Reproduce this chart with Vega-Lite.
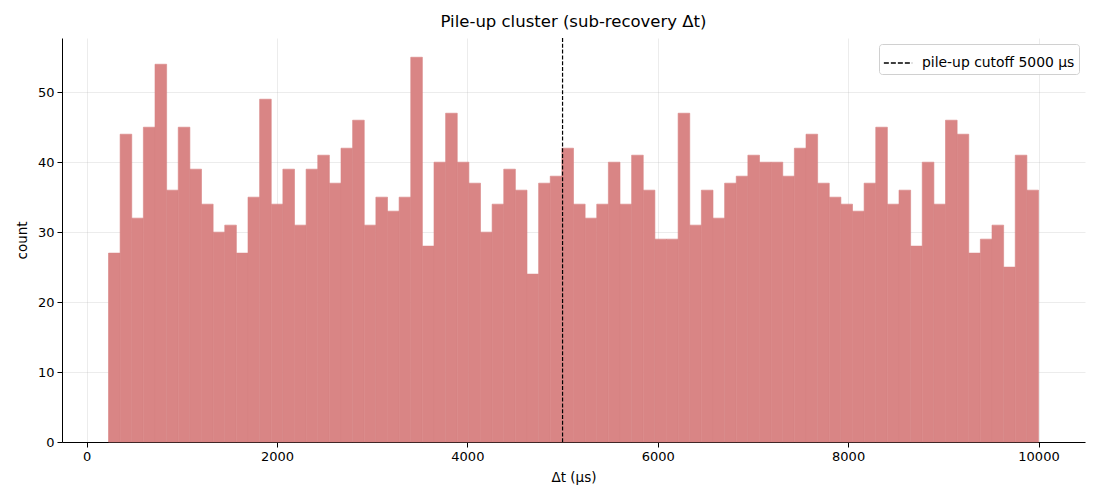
{
  "$schema": "https://vega.github.io/schema/vega-lite/v6.json",
  "width": 1023,
  "height": 404,
  "autosize": {"type": "none"},
  "padding": {"left": 62, "top": 38, "right": 15, "bottom": 58},
  "background": "white",
  "title": {"text": "Pile-up cluster (sub-recovery Δt)", "fontSize": 16.5, "fontWeight": "normal", "font": "DejaVu Sans", "offset": 7, "color": "black"},
  "datasets": {
    "bins": [
      {"bin_start": 230, "bin_end": 352.125, "count": 27},
      {"bin_start": 352.125, "bin_end": 474.25, "count": 44},
      {"bin_start": 474.25, "bin_end": 596.375, "count": 32},
      {"bin_start": 596.375, "bin_end": 718.5, "count": 45},
      {"bin_start": 718.5, "bin_end": 840.625, "count": 54},
      {"bin_start": 840.625, "bin_end": 962.75, "count": 36},
      {"bin_start": 962.75, "bin_end": 1084.875, "count": 45},
      {"bin_start": 1084.875, "bin_end": 1207, "count": 39},
      {"bin_start": 1207, "bin_end": 1329.125, "count": 34},
      {"bin_start": 1329.125, "bin_end": 1451.25, "count": 30},
      {"bin_start": 1451.25, "bin_end": 1573.375, "count": 31},
      {"bin_start": 1573.375, "bin_end": 1695.5, "count": 27},
      {"bin_start": 1695.5, "bin_end": 1817.625, "count": 35},
      {"bin_start": 1817.625, "bin_end": 1939.75, "count": 49},
      {"bin_start": 1939.75, "bin_end": 2061.875, "count": 34},
      {"bin_start": 2061.875, "bin_end": 2184, "count": 39},
      {"bin_start": 2184, "bin_end": 2306.125, "count": 31},
      {"bin_start": 2306.125, "bin_end": 2428.25, "count": 39},
      {"bin_start": 2428.25, "bin_end": 2550.375, "count": 41},
      {"bin_start": 2550.375, "bin_end": 2672.5, "count": 37},
      {"bin_start": 2672.5, "bin_end": 2794.625, "count": 42},
      {"bin_start": 2794.625, "bin_end": 2916.75, "count": 46},
      {"bin_start": 2916.75, "bin_end": 3038.875, "count": 31},
      {"bin_start": 3038.875, "bin_end": 3161, "count": 35},
      {"bin_start": 3161, "bin_end": 3283.125, "count": 33},
      {"bin_start": 3283.125, "bin_end": 3405.25, "count": 35},
      {"bin_start": 3405.25, "bin_end": 3527.375, "count": 55},
      {"bin_start": 3527.375, "bin_end": 3649.5, "count": 28},
      {"bin_start": 3649.5, "bin_end": 3771.625, "count": 40},
      {"bin_start": 3771.625, "bin_end": 3893.75, "count": 47},
      {"bin_start": 3893.75, "bin_end": 4015.875, "count": 40},
      {"bin_start": 4015.875, "bin_end": 4138, "count": 37},
      {"bin_start": 4138, "bin_end": 4260.125, "count": 30},
      {"bin_start": 4260.125, "bin_end": 4382.25, "count": 34},
      {"bin_start": 4382.25, "bin_end": 4504.375, "count": 39},
      {"bin_start": 4504.375, "bin_end": 4626.5, "count": 36},
      {"bin_start": 4626.5, "bin_end": 4748.625, "count": 24},
      {"bin_start": 4748.625, "bin_end": 4870.75, "count": 37},
      {"bin_start": 4870.75, "bin_end": 4992.875, "count": 38},
      {"bin_start": 4992.875, "bin_end": 5115, "count": 42},
      {"bin_start": 5115, "bin_end": 5237.125, "count": 34},
      {"bin_start": 5237.125, "bin_end": 5359.25, "count": 32},
      {"bin_start": 5359.25, "bin_end": 5481.375, "count": 34},
      {"bin_start": 5481.375, "bin_end": 5603.5, "count": 40},
      {"bin_start": 5603.5, "bin_end": 5725.625, "count": 34},
      {"bin_start": 5725.625, "bin_end": 5847.75, "count": 41},
      {"bin_start": 5847.75, "bin_end": 5969.875, "count": 36},
      {"bin_start": 5969.875, "bin_end": 6092, "count": 29},
      {"bin_start": 6092, "bin_end": 6214.125, "count": 29},
      {"bin_start": 6214.125, "bin_end": 6336.25, "count": 47},
      {"bin_start": 6336.25, "bin_end": 6458.375, "count": 31},
      {"bin_start": 6458.375, "bin_end": 6580.5, "count": 36},
      {"bin_start": 6580.5, "bin_end": 6702.625, "count": 32},
      {"bin_start": 6702.625, "bin_end": 6824.75, "count": 37},
      {"bin_start": 6824.75, "bin_end": 6946.875, "count": 38},
      {"bin_start": 6946.875, "bin_end": 7069, "count": 41},
      {"bin_start": 7069, "bin_end": 7191.125, "count": 40},
      {"bin_start": 7191.125, "bin_end": 7313.25, "count": 40},
      {"bin_start": 7313.25, "bin_end": 7435.375, "count": 38},
      {"bin_start": 7435.375, "bin_end": 7557.5, "count": 42},
      {"bin_start": 7557.5, "bin_end": 7679.625, "count": 44},
      {"bin_start": 7679.625, "bin_end": 7801.75, "count": 37},
      {"bin_start": 7801.75, "bin_end": 7923.875, "count": 35},
      {"bin_start": 7923.875, "bin_end": 8046, "count": 34},
      {"bin_start": 8046, "bin_end": 8168.125, "count": 33},
      {"bin_start": 8168.125, "bin_end": 8290.25, "count": 37},
      {"bin_start": 8290.25, "bin_end": 8412.375, "count": 45},
      {"bin_start": 8412.375, "bin_end": 8534.5, "count": 34},
      {"bin_start": 8534.5, "bin_end": 8656.625, "count": 36},
      {"bin_start": 8656.625, "bin_end": 8778.75, "count": 28},
      {"bin_start": 8778.75, "bin_end": 8900.875, "count": 40},
      {"bin_start": 8900.875, "bin_end": 9023, "count": 34},
      {"bin_start": 9023, "bin_end": 9145.125, "count": 46},
      {"bin_start": 9145.125, "bin_end": 9267.25, "count": 44},
      {"bin_start": 9267.25, "bin_end": 9389.375, "count": 27},
      {"bin_start": 9389.375, "bin_end": 9511.5, "count": 29},
      {"bin_start": 9511.5, "bin_end": 9633.625, "count": 31},
      {"bin_start": 9633.625, "bin_end": 9755.75, "count": 25},
      {"bin_start": 9755.75, "bin_end": 9877.875, "count": 41},
      {"bin_start": 9877.875, "bin_end": 10000, "count": 36}
    ],
    "cutoff": [
      {"cutoff": 5000, "label": "pile-up cutoff 5000 μs"}
    ]
  },
  "layer": [
    {
      "data": {"name": "bins"},
      "mark": {"type": "rect", "color": "#d98585", "stroke": "#d98585", "strokeWidth": 0.6},
      "encoding": {
        "x": {
          "field": "bin_start",
          "type": "quantitative",
          "title": "Δt (μs)",
          "scale": {"domain": [-258.5, 10488.5], "nice": false, "zero": false},
          "axis": {"values": [0, 2000, 4000, 6000, 8000, 10000], "format": "d"}
        },
        "x2": {"field": "bin_end"},
        "y": {
          "field": "count",
          "type": "quantitative",
          "title": "count",
          "scale": {"domain": [0, 57.75], "nice": false},
          "axis": {"values": [0, 10, 20, 30, 40, 50]}
        }
      }
    },
    {
      "data": {"name": "cutoff"},
      "mark": {"type": "rule", "strokeDash": [4, 1.8], "strokeWidth": 1.2},
      "encoding": {
        "x": {"field": "cutoff", "type": "quantitative"},
        "color": {
          "field": "label",
          "type": "nominal",
          "scale": {"range": ["black"]},
          "legend": {
            "title": null,
            "orient": "top-right",
            "offset": 6,
            "symbolType": "stroke",
            "symbolDash": [5, 2],
            "symbolStrokeWidth": 1.3,
            "symbolSize": 800,
            "labelFontSize": 13.9,
            "labelFont": "DejaVu Sans",
            "labelColor": "black",
            "labelOffset": 9,
            "strokeColor": "#d0d0d0",
            "fillColor": "white",
            "cornerRadius": 3,
            "padding": 4
          }
        }
      }
    }
  ],
  "config": {
    "view": {"stroke": null},
    "font": "DejaVu Sans",
    "axis": {
      "zindex": 1,
      "labelFont": "DejaVu Sans",
      "labelFontSize": 13,
      "labelColor": "black",
      "titleFont": "DejaVu Sans",
      "titleFontSize": 13.5,
      "titleFontWeight": "normal",
      "titleColor": "black",
      "domainColor": "black",
      "domainWidth": 1,
      "tickColor": "black",
      "tickSize": 5,
      "tickWidth": 1,
      "grid": true,
      "gridColor": "#b0b0b0",
      "gridOpacity": 0.3,
      "gridWidth": 0.8,
      "labelPadding": 3
    },
    "axisX": {"titlePadding": 7, "labelFlush": false},
    "axisY": {"titlePadding": 8}
  }
}
